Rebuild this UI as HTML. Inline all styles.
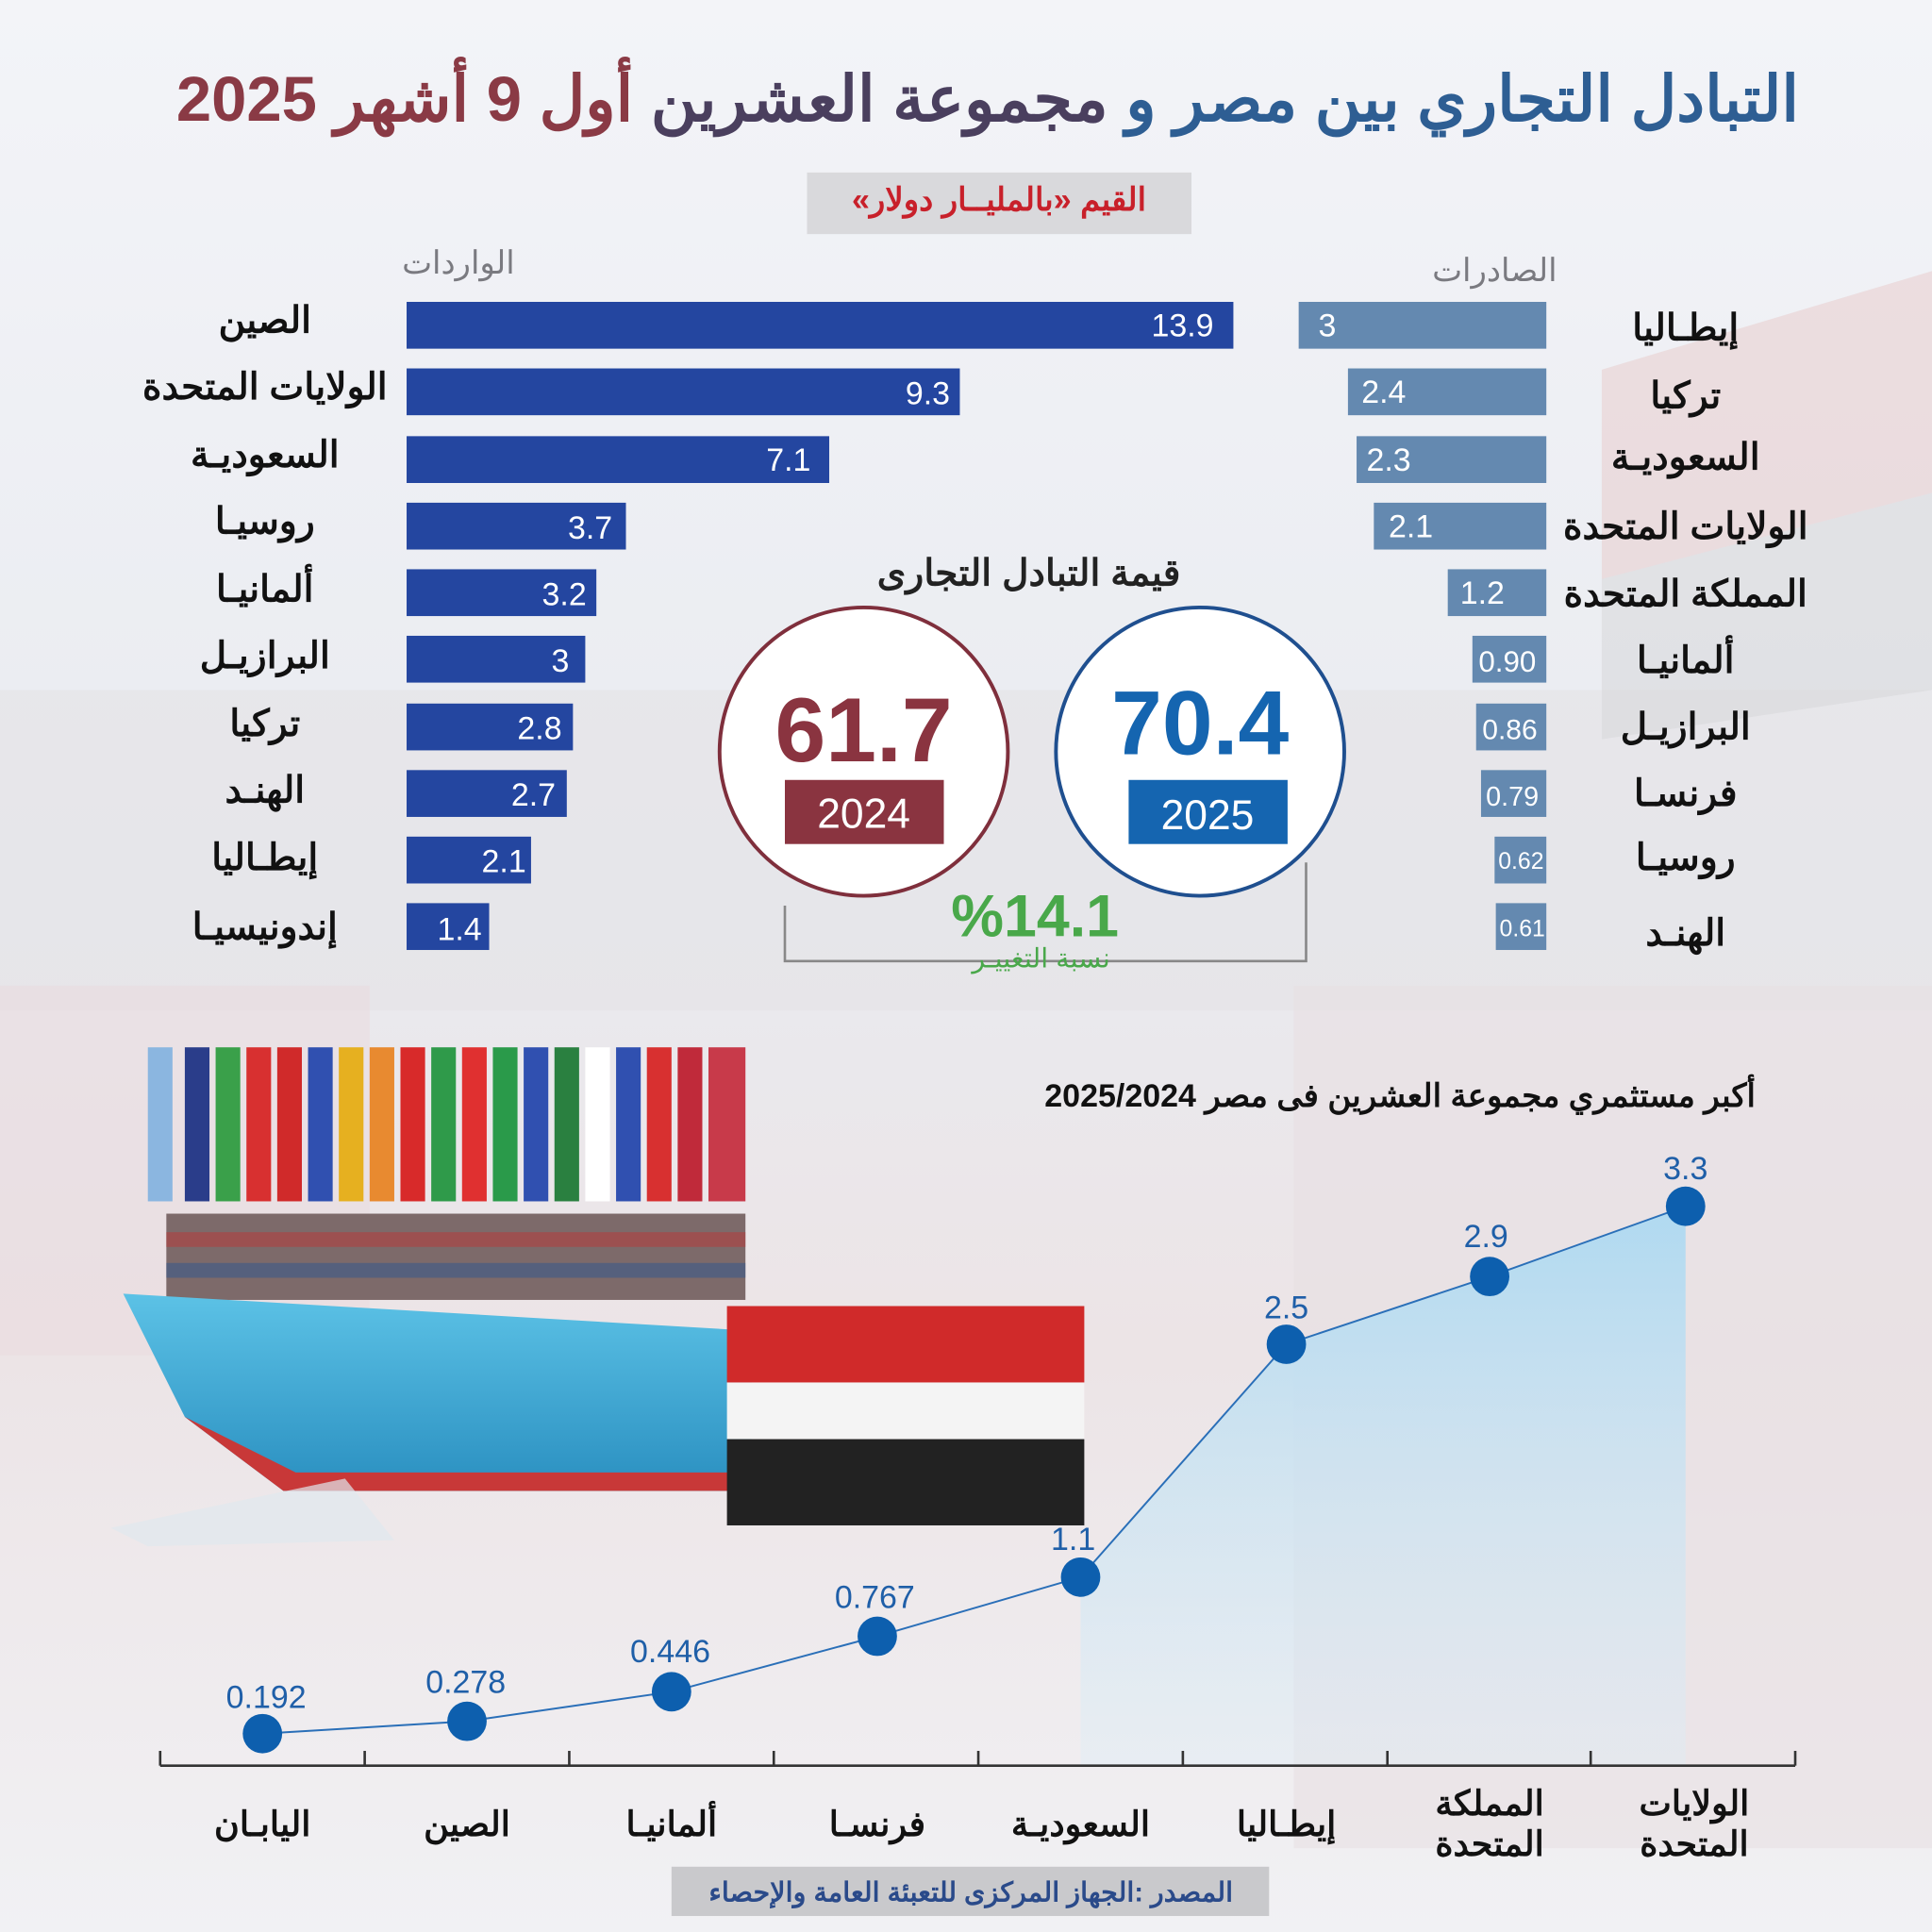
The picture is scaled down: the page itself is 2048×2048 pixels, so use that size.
<!DOCTYPE html>
<html><head><meta charset="utf-8"><style>
html,body{margin:0;padding:0;width:2048px;height:2048px;overflow:hidden;background:#eef0f4;position:relative}
svg{display:block}
text{font-family:"Liberation Sans","Noto Sans CJK SC",sans-serif;}
.ov{position:absolute;direction:rtl;font-family:"Liberation Sans","Noto Sans CJK SC",sans-serif;font-weight:bold;white-space:nowrap;line-height:1.2}
</style></head><body>
<svg width="2048" height="2048" viewBox="0 0 1568 1568" xmlns="http://www.w3.org/2000/svg">
<defs>
<linearGradient id="bg" x1="0" y1="0" x2="0" y2="1">
<stop offset="0" stop-color="#f3f4f8"/><stop offset="0.45" stop-color="#e9ebf0"/><stop offset="0.7" stop-color="#ece4e6"/><stop offset="1" stop-color="#f1f1f4"/></linearGradient>
<linearGradient id="area" x1="0" y1="0" x2="0" y2="1"><stop offset="0" stop-color="#a9d8f2" stop-opacity="0.9"/><stop offset="1" stop-color="#d8eef9" stop-opacity="0.3"/></linearGradient>
<linearGradient id="hull" x1="0" y1="0" x2="0" y2="1"><stop offset="0" stop-color="#5cc2e6"/><stop offset="1" stop-color="#2a8fc0"/></linearGradient>
</defs>
<rect width="1568" height="1568" fill="url(#bg)"/>
<rect x="0" y="560" width="1568" height="260" fill="#e4e2e6" opacity="0.6"/>
<rect x="1050" y="800" width="518" height="700" fill="#e8dfe2" opacity="0.6"/>
<rect x="0" y="800" width="300" height="300" fill="#eadadd" opacity="0.5"/>
<polygon points="1300,300 1568,220 1568,400 1300,470" fill="#e7c9c9" opacity="0.5"/>
<polygon points="1300,470 1568,400 1568,560 1300,600" fill="#d5d5d8" opacity="0.5"/>

<rect x="655" y="140" width="312" height="50" fill="#d9d9dc"/>

<text x="372" y="222" text-anchor="middle" font-size="26" fill="#7a7a80">الواردات</text>
<text x="1213" y="228" text-anchor="middle" font-size="26" fill="#7a7a80">الصادرات</text>

<g fill="#2446a0">
<rect x="330" y="245" width="671" height="38"/>
<rect x="330" y="299" width="449" height="38"/>
<rect x="330" y="354" width="343" height="38"/>
<rect x="330" y="408" width="178" height="38"/>
<rect x="330" y="462" width="154" height="38"/>
<rect x="330" y="516" width="145" height="38"/>
<rect x="330" y="571" width="135" height="38"/>
<rect x="330" y="625" width="130" height="38"/>
<rect x="330" y="679" width="101" height="38"/>
<rect x="330" y="733" width="67" height="38"/>
</g>
<g fill="#fff" font-size="26" text-anchor="end">
<text x="985" y="273">13.9</text><text x="771" y="328">9.3</text><text x="658" y="382">7.1</text>
<text x="497" y="437">3.7</text><text x="476" y="491">3.2</text><text x="462" y="545">3</text>
<text x="456" y="600">2.8</text><text x="451" y="654">2.7</text><text x="427" y="708">2.1</text><text x="391" y="763">1.4</text>
</g>
<g fill="#111" font-size="30" font-weight="bold" text-anchor="middle">
<text x="215" y="270">الصين</text><text x="215" y="324">الولايات المتحدة</text><text x="215" y="379">السعوديـة</text>
<text x="215" y="433">روسيـا</text><text x="215" y="488">ألمانيـا</text><text x="215" y="542">البرازيـل</text>
<text x="215" y="597">تركيا</text><text x="215" y="651">الهنـد</text><text x="215" y="706">إيطـاليا</text><text x="215" y="762">إندونيسيـا</text>
</g>

<g fill="#6489b0">
<rect x="1054" y="245" width="201" height="38"/>
<rect x="1094" y="299" width="161" height="38"/>
<rect x="1101" y="354" width="154" height="38"/>
<rect x="1115" y="408" width="140" height="38"/>
<rect x="1175" y="462" width="80" height="38"/>
<rect x="1195" y="516" width="60" height="38"/>
<rect x="1198" y="571" width="57" height="38"/>
<rect x="1202" y="625" width="53" height="38"/>
<rect x="1213" y="679" width="42" height="38"/>
<rect x="1214" y="733" width="41" height="38"/>
</g>
<g fill="#fff" font-size="26">
<text x="1070" y="273">3</text><text x="1105" y="327">2.4</text><text x="1109" y="382">2.3</text>
<text x="1127" y="436">2.1</text><text x="1185" y="490">1.2</text>
<text x="1200" y="545" font-size="24">0.90</text><text x="1203" y="600" font-size="23">0.86</text>
<text x="1206" y="654" font-size="22">0.79</text><text x="1216" y="705" font-size="19">0.62</text><text x="1217" y="760" font-size="19">0.61</text>
</g>
<g fill="#111" font-size="30" font-weight="bold" text-anchor="middle">
<text x="1368" y="276">إيطـاليا</text><text x="1368" y="331">تركيا</text><text x="1368" y="381">السعوديـة</text>
<text x="1368" y="437">الولايات المتحدة</text><text x="1368" y="492">المملكة المتحدة</text><text x="1368" y="546">ألمانيـا</text>
<text x="1368" y="600">البرازيـل</text><text x="1368" y="654">فرنسـا</text><text x="1368" y="706">روسيـا</text><text x="1368" y="767">الهنـد</text>
</g>

<text x="835" y="475" text-anchor="middle" font-size="30" font-weight="bold" fill="#222">قيمة التبادل التجارى</text>
<polyline points="637,735 637,780 1060,780 1060,700" fill="none" stroke="#888" stroke-width="2"/>
<circle cx="701" cy="610" r="117" fill="#fff" stroke="#7f2f3c" stroke-width="3"/>
<circle cx="974" cy="610" r="117" fill="#fff" stroke="#1f4f8f" stroke-width="3"/>
<text x="701" y="618" text-anchor="middle" font-size="74" font-weight="bold" fill="#8a3440">61.7</text>
<rect x="637" y="633" width="129" height="52" fill="#8a3440"/>
<text x="701" y="672" text-anchor="middle" font-size="34" fill="#fff">2024</text>
<text x="974" y="612" text-anchor="middle" font-size="74" font-weight="bold" fill="#1565b0">70.4</text>
<rect x="916" y="633" width="129" height="52" fill="#1565b0"/>
<text x="980" y="673" text-anchor="middle" font-size="34" fill="#fff">2025</text>
<text x="840" y="760" text-anchor="middle" font-size="48" font-weight="bold" fill="#49a84a">%14.1</text>
<text x="845" y="785" text-anchor="middle" font-size="22" fill="#49a84a">نسبة التغييـر</text>

<g>
<g>
<rect x="120" y="850" width="20" height="125" fill="#8bb6e0"/><rect x="150" y="850" width="20" height="125" fill="#2a3d8a"/>
<rect x="175" y="850" width="20" height="125" fill="#3aa04a"/><rect x="200" y="850" width="20" height="125" fill="#d83030"/>
<rect x="225" y="850" width="20" height="125" fill="#d02a2a"/><rect x="250" y="850" width="20" height="125" fill="#3050b0"/>
<rect x="275" y="850" width="20" height="125" fill="#e6b020"/><rect x="300" y="850" width="20" height="125" fill="#e88a30"/>
<rect x="325" y="850" width="20" height="125" fill="#d82a2a"/><rect x="350" y="850" width="20" height="125" fill="#2f9a4a"/>
<rect x="375" y="850" width="20" height="125" fill="#e03030"/><rect x="400" y="850" width="20" height="125" fill="#2a9a4a"/>
<rect x="425" y="850" width="20" height="125" fill="#3050b0"/><rect x="450" y="850" width="20" height="125" fill="#2a8040"/>
<rect x="475" y="850" width="20" height="125" fill="#ffffff"/><rect x="500" y="850" width="20" height="125" fill="#3050b0"/>
<rect x="525" y="850" width="20" height="125" fill="#d83030"/><rect x="550" y="850" width="20" height="125" fill="#c02a3a"/>
<rect x="575" y="850" width="30" height="125" fill="#c83a4a"/>
</g>
<rect x="135" y="985" width="470" height="70" fill="#7d6a6a"/>
<rect x="135" y="1000" width="470" height="12" fill="#b04040" opacity="0.6"/>
<rect x="135" y="1025" width="470" height="12" fill="#3a5a8a" opacity="0.6"/>
<polygon points="100,1050 610,1080 610,1210 230,1210 150,1150" fill="url(#hull)"/>
<polygon points="150,1150 230,1210 610,1210 610,1195 240,1195" fill="#c83838"/>
<rect x="590" y="1060" width="290" height="62" fill="#d02a2a"/>
<rect x="590" y="1122" width="290" height="46" fill="#f4f4f4"/>
<rect x="590" y="1168" width="290" height="70" fill="#222"/>
<polygon points="90,1240 280,1200 320,1250 120,1255" fill="#dfe8ee" opacity="0.7"/>
</g>

<polygon points="877,1280 1044,1091 1209,1036 1368,979 1368,1433 877,1433" fill="url(#area)"/>
<polyline points="213,1407 379,1397 545,1373 712,1328 877,1280 1044,1091 1209,1036 1368,979" fill="none" stroke="#2a6fb8" stroke-width="1.5"/>
<g fill="#0d5fae">
<circle cx="213" cy="1407" r="16"/><circle cx="379" cy="1397" r="16"/><circle cx="545" cy="1373" r="16"/>
<circle cx="712" cy="1328" r="16"/><circle cx="877" cy="1280" r="16"/><circle cx="1044" cy="1091" r="16"/>
<circle cx="1209" cy="1036" r="16"/><circle cx="1368" cy="979" r="16"/>
</g>
<g fill="#1f5fa8" font-size="26" text-anchor="middle">
<text x="216" y="1386">0.192</text><text x="378" y="1374">0.278</text><text x="544" y="1349">0.446</text>
<text x="710" y="1305">0.767</text><text x="871" y="1258">1.1</text><text x="1044" y="1070">2.5</text>
<text x="1206" y="1012">2.9</text><text x="1368" y="957">3.3</text>
</g>
<line x1="130" y1="1433" x2="1457" y2="1433" stroke="#333" stroke-width="2"/>
<g stroke="#333" stroke-width="2">
<line x1="130" y1="1421" x2="130" y2="1433"/><line x1="296" y1="1421" x2="296" y2="1433"/><line x1="462" y1="1421" x2="462" y2="1433"/>
<line x1="628" y1="1421" x2="628" y2="1433"/><line x1="794" y1="1421" x2="794" y2="1433"/><line x1="960" y1="1421" x2="960" y2="1433"/>
<line x1="1126" y1="1421" x2="1126" y2="1433"/><line x1="1291" y1="1421" x2="1291" y2="1433"/><line x1="1457" y1="1421" x2="1457" y2="1433"/>
</g>
<g fill="#111" font-size="28" font-weight="bold" text-anchor="middle">
<text x="213" y="1490">اليابـان</text><text x="379" y="1490">الصين</text><text x="545" y="1490">ألمانيـا</text>
<text x="712" y="1490">فرنسـا</text><text x="877" y="1490">السعوديـة</text><text x="1044" y="1490">إيطـاليا</text>
<text x="1209" y="1473">المملكة</text><text x="1209" y="1506">المتحدة</text>
<text x="1375" y="1473">الولايات</text><text x="1375" y="1506">المتحدة</text>
</g>

<rect x="545" y="1515" width="485" height="40" fill="#c9c9cc"/>
<text x="788" y="1543" text-anchor="middle" font-size="22" font-weight="bold" fill="#2a4a8a">المصدر :الجهاز المركزى للتعبئة العامة والإحصاء</text>
</svg>
<div class="ov" style="right:141px;top:66px;font-size:67px;"><span style="color:#2e5e93">التبادل التجاري بين مصر و </span><span style="color:#4a3f5e">مجموعة العشرين </span><span style="color:#8a3a45">أول 9 أشهر 2025</span></div>
<div class="ov" style="left:855px;width:408px;text-align:center;top:192px;font-size:34px;color:#c8202a">القيم «بالمليــار دولار»</div>
<div class="ov" style="right:187px;top:1142px;font-size:34px;color:#111">أكبر مستثمري مجموعة العشرين فى مصر 2025/2024</div>
</body></html>
